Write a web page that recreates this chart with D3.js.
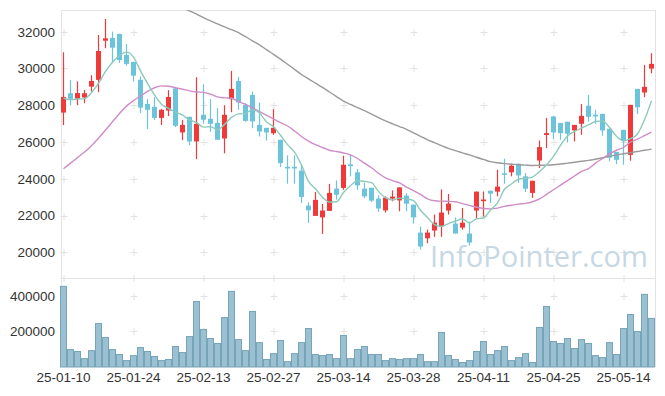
<!DOCTYPE html>
<html>
<head>
<meta charset="utf-8">
<script src="https://cdn.jsdelivr.net/npm/d3@7.9.0/dist/d3.min.js"></script>
<style>
  body { margin: 0; background: #fff; }
  svg { display: block; }
  text { font-family: "Liberation Sans", Arial, sans-serif; }
</style>
</head>
<body>
<svg id="chart" width="665" height="396"></svg>
<script>
// trading days (yy-mm-dd)
const dates = [
  "25-01-10","25-01-13","25-01-14","25-01-15","25-01-16","25-01-17","25-01-20","25-01-21","25-01-22","25-01-23",
  "25-01-24","25-01-31","25-02-03","25-02-04","25-02-05","25-02-06","25-02-07","25-02-10","25-02-11","25-02-12",
  "25-02-13","25-02-14","25-02-17","25-02-18","25-02-19","25-02-20","25-02-21","25-02-24","25-02-25","25-02-26",
  "25-02-27","25-02-28","25-03-04","25-03-05","25-03-06","25-03-07","25-03-10","25-03-11","25-03-12","25-03-13",
  "25-03-14","25-03-17","25-03-18","25-03-19","25-03-20","25-03-21","25-03-24","25-03-25","25-03-26","25-03-27",
  "25-03-28","25-03-31","25-04-01","25-04-02","25-04-03","25-04-04","25-04-07","25-04-08","25-04-09","25-04-10",
  "25-04-11","25-04-14","25-04-15","25-04-16","25-04-17","25-04-18","25-04-21","25-04-22","25-04-23","25-04-24",
  "25-04-25","25-04-28","25-04-29","25-04-30","25-05-02","25-05-07","25-05-08","25-05-09","25-05-12","25-05-13",
  "25-05-14","25-05-15","25-05-16","25-05-19","25-05-20"
];

const opens = [
  27600,28650,28360,28420,29010,29380,31510,31660,31880,30740,
  30350,29380,28070,27910,27310,27710,28910,26520,27370,26030,
  27480,27260,27040,26190,28330,29320,28020,28560,26930,26770,
  26480,26120,24650,24650,24440,22540,21980,21900,22250,23460,
  23500,24780,24350,23460,23510,22920,22280,22920,22820,23080,
  22590,21070,20760,21180,21400,22270,21560,21340,21020,22270,
  22780,23350,23300,24290,24350,24820,24130,23230,24990,26380,
  27390,27030,27100,26630,26990,27970,27480,27530,26720,25460,
  26660,25300,28890,28690,29990
];
const highs = [
  30880,29380,29300,28830,29630,31820,32690,32000,31880,31330,
  30370,29560,28330,28440,27800,28820,28960,27200,27370,29520,
  29140,28330,27840,28000,29870,29540,28100,28740,28150,26770,
  27790,26120,25270,25270,24750,22720,23280,22630,23720,23910,
  25250,25320,24530,23770,23510,23100,23040,23370,23530,23220,
  22590,21400,21230,22050,23420,23170,21890,22410,21670,23300,
  23310,23350,24490,25090,24820,24820,24310,23890,26080,27300,
  27420,27030,27100,26930,28060,28560,27750,27530,26720,25460,
  26660,28020,28890,30190,30830
];
const lows = [
  26920,28000,28000,28110,28740,28710,31100,30340,30300,30150,
  29290,27570,26700,27200,26920,27410,26810,26100,25830,25070,
  26990,26550,26120,25380,27620,27750,27100,26750,26300,26080,
  26390,24640,23730,23730,22680,21600,21980,21000,22250,22860,
  23400,24130,23400,22950,22720,22200,22160,22770,22230,22230,
  21560,20150,20490,20840,20840,22050,21020,21230,20360,21850,
  21950,22680,23040,23730,24130,23770,23280,22960,24580,25670,
  26160,26120,25970,26030,26390,27110,26990,26340,24960,24800,
  24760,24980,27520,28440,29740
];
const closes = [
  28450,28350,28660,28650,29320,30950,31640,31130,30460,30250,
  29610,27870,27750,27310,27750,28450,26880,26930,26030,26990,
  27210,26990,26120,27480,28890,28150,27150,27120,26570,26520,
  26770,24850,24560,24560,23010,22280,22850,22270,23230,23130,
  24760,24690,23640,23040,22810,22380,22970,23030,23530,22640,
  21900,20310,21070,21610,22160,22650,21020,21610,20530,23300,
  22870,23190,23570,24220,24710,24180,23460,23890,25720,26480,
  26520,26480,26450,26930,27420,27370,27390,26630,25150,25030,
  26080,28020,27890,29000,30250
];
const volumes = [
  453000,98000,87000,47000,92000,244000,166000,98000,70000,36000,
  64000,109000,87000,59000,36000,42000,115000,81000,171000,368000,
  211000,160000,132000,278000,425000,154000,92000,312000,137000,42000,
  75000,149000,30000,75000,137000,216000,70000,64000,70000,47000,
  177000,47000,98000,115000,70000,70000,36000,47000,42000,47000,
  47000,70000,30000,30000,194000,64000,42000,25000,36000,87000,
  143000,70000,92000,115000,36000,53000,75000,25000,222000,340000,
  143000,132000,160000,104000,154000,132000,64000,53000,137000,70000,
  216000,295000,199000,408000,273000
];

// moving averages as drawn on the chart
const ma5 = [
  28380,28310,28330,28360,28686,29186,29844,30338,30700,30886,
  30618,29864,29188,28558,28058,27826,27628,27464,27208,27056,
  26808,26830,26668,26958,27338,27526,27558,27758,27576,27102,
  26826,26366,25854,25452,24750,23852,23452,22994,22728,22752,
  23248,23616,23890,23852,23788,23312,22968,22846,22944,22910,
  22814,22282,21890,21506,21410,21560,21702,21810,21594,21822,
  21866,22300,22692,23430,23712,23974,24028,24092,24392,24746,
  25214,25818,26330,26572,26760,26930,27112,27148,26792,26314,
  26056,26182,26434,27204,28248
];
const ma20 = [
  24540,24850,25150,25450,25800,26200,26650,27100,27550,27950,
  28250,28500,28750,28950,29050,29030,28950,28870,28780,28720,
  28700,28600,28450,28400,28380,28200,28050,27850,27650,27450,
  27250,27050,26870,26600,26300,26050,25850,25700,25550,25480,
  25400,25300,25100,24850,24600,24300,24050,23900,23770,23550,
  23350,23150,22900,22800,22780,22770,22750,22650,22550,22450,
  22380,22360,22400,22500,22560,22620,22660,22750,22900,23150,
  23400,23650,23900,24150,24400,24550,24850,25100,25350,25550,
  25700,26000,26150,26350,26540
];
const ma60 = [
  null,null,null,null,null,null,null,null,null,null,
  null,null,null,null,null,null,null,33300,33130,32960,
  32760,32590,32420,32260,32110,31950,31730,31500,31280,31020,
  30770,30510,30230,29950,29670,29430,29200,28970,28720,28470,
  28220,28040,27870,27700,27520,27330,27150,26990,26840,26690,
  26500,26310,26120,25960,25800,25650,25530,25410,25300,25170,
  25050,24930,24870,24820,24790,24760,24740,24720,24730,24740,
  24760,24800,24850,24900,24950,25000,25060,25140,25220,25300,
  25360,25420,25480,25550,25610
];

const priceTicks = [20000, 22000, 24000, 26000, 28000, 30000, 32000];
const volumeTicks = [200000, 400000];
const dateTicks = ["25-01-10","25-01-24","25-02-13","25-02-27","25-03-14","25-03-28","25-04-11","25-04-25","25-05-14"];

const svg = d3.select("#chart");

const plotLeft = 60, plotRight = 655, plotTop = 10, split = 278, plotBottom = 367;

const x = d3.scaleBand().domain(dates).range([plotLeft, plotRight]).padding(0);
const y = d3.scaleLinear().domain([18600, 33180]).range([split, plotTop]);
const yVol = d3.scaleLinear().domain([0, 500000]).range([plotBottom, split]);

svg.append("defs").append("clipPath").attr("id", "priceClip")
  .append("rect").attr("x", plotLeft).attr("y", plotTop)
  .attr("width", plotRight - plotLeft).attr("height", split - plotTop);

// frame
const frame = svg.append("g").attr("stroke", "#e3e3e3").attr("fill", "none");
frame.append("line").attr("x1", plotLeft + 1.5).attr("x2", plotLeft + 1.5).attr("y1", plotTop).attr("y2", plotBottom);
frame.append("line").attr("x1", plotRight + 0.5).attr("x2", plotRight + 0.5).attr("y1", plotTop).attr("y2", plotBottom);
frame.append("line").attr("x1", plotLeft + 1).attr("x2", plotRight).attr("y1", plotTop + 0.5).attr("y2", plotTop + 0.5);
frame.append("line").attr("x1", plotLeft + 1).attr("x2", plotRight).attr("y1", split + 0.5).attr("y2", split + 0.5);

// grid crosses
const crossX = dateTicks.map(d => x(d) + x.bandwidth() / 2);
const crossY = priceTicks.map(v => y(v)).concat(volumeTicks.map(v => yVol(v)), [split]);
const crosses = svg.append("g").attr("stroke", "#e2e2e2").attr("stroke-width", 1);
crossX.forEach(cx => {
  crossY.forEach(cy => {
    const py = Math.round(cy) + 0.5;
    crosses.append("line").attr("x1", cx - 3).attr("x2", cx + 4).attr("y1", py).attr("y2", py);
    crosses.append("line").attr("x1", cx + 0.5).attr("x2", cx + 0.5).attr("y1", py - 3.5).attr("y2", py + 3.5);
  });
});

// watermark, sized so it spans 430..648 like the reference
const mark = svg.append("text")
  .attr("x", 430).attr("y", 267)
  .attr("font-size", 30)
  .style("font-family", "'Open Sans', sans-serif")
  .attr("fill", "#c6d8e3")
  .text("InfoPointer.com");
const markLen = mark.node().getComputedTextLength();
if (markLen > 0) mark.attr("font-size", 30 * 218 / markLen);

// volume bars
svg.append("g").selectAll("rect")
  .data(dates)
  .join("rect")
  .attr("x", d => x(d) + 0.5)
  .attr("width", x.bandwidth() - 1)
  .attr("y", (d, i) => yVol(volumes[i]))
  .attr("height", (d, i) => plotBottom - yVol(volumes[i]))
  .attr("fill", "#9bc0d1")
  .attr("stroke", "#76a4b9")
  .attr("stroke-width", 1);

// candles
const upColor = "#f03a3a", downColor = "#6cc3dc";
const candles = svg.append("g").attr("clip-path", "url(#priceClip)")
  .selectAll("g")
  .data(dates)
  .join("g")
  .attr("fill", (d, i) => closes[i] >= opens[i] ? upColor : downColor)
  .attr("stroke", (d, i) => closes[i] >= opens[i] ? upColor : downColor);

candles.append("line")
  .attr("x1", d => x(d) + 3.5).attr("x2", d => x(d) + 3.5)
  .attr("y1", (d, i) => y(highs[i]))
  .attr("y2", (d, i) => y(lows[i]))
  .attr("stroke-width", 1.2);

candles.append("rect")
  .attr("stroke", "none")
  .attr("x", d => x(d) + 1)
  .attr("width", x.bandwidth() - 2)
  .attr("y", (d, i) => y(Math.max(opens[i], closes[i])))
  .attr("height", (d, i) => Math.max(1.5, Math.abs(y(opens[i]) - y(closes[i]))));

// moving averages
const maLine = d3.line()
  .defined(d => d[1] != null)
  .x(d => x(d[0]) + 3.5)
  .y(d => y(d[1]))
  .curve(d3.curveMonotoneX);

const maGroup = svg.append("g").attr("clip-path", "url(#priceClip)").attr("fill", "none");
[[ma60, "#9a9a9a"], [ma20, "#cf8cc8"], [ma5, "#8ccbbc"]].forEach(([vals, color]) => {
  maGroup.append("path")
    .attr("d", maLine(dates.map((d, i) => [d, vals[i]])))
    .attr("stroke", color)
    .attr("stroke-width", 1.4);
});

// axes
const yAxis = svg.append("g")
  .attr("transform", `translate(${plotLeft + 1},0)`)
  .call(d3.axisLeft(y).tickValues(priceTicks).tickSize(0).tickPadding(6).tickFormat(d3.format("d")));
const vAxis = svg.append("g")
  .attr("transform", `translate(${plotLeft + 1},0)`)
  .call(d3.axisLeft(yVol).tickValues(volumeTicks).tickSize(0).tickPadding(6).tickFormat(d3.format("d")));
const xAxis = svg.append("g")
  .attr("transform", `translate(0,${plotBottom})`)
  .call(d3.axisBottom(x).tickValues(dateTicks).tickSize(0).tickPadding(5));

[yAxis, vAxis, xAxis].forEach(g => {
  g.select(".domain").remove();
  g.selectAll("text")
    .attr("font-size", 13.5)
    .attr("fill", "#333")
    .style("font-family", "'Liberation Sans', Arial, sans-serif");
});
</script>
</body>
</html>
